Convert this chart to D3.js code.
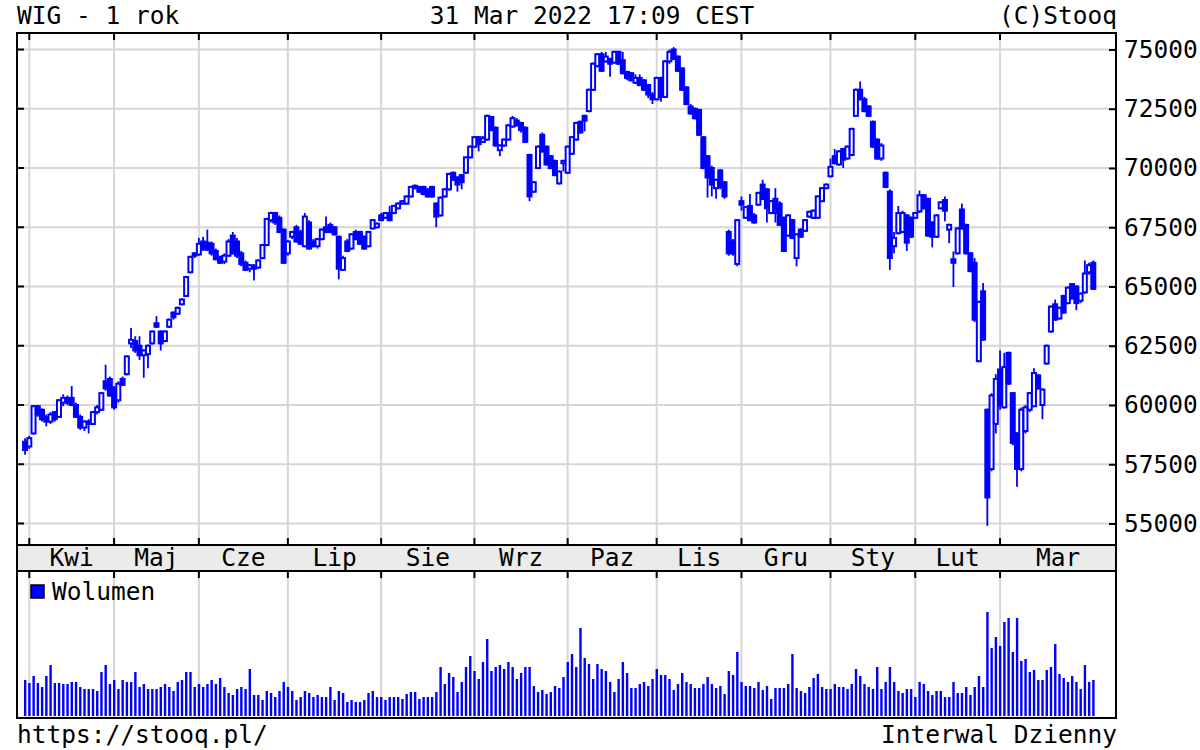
<!DOCTYPE html>
<html><head><meta charset="utf-8">
<script src="https://cdn.jsdelivr.net/npm/d3@7"></script>
<style>
body{margin:0;background:#fff}
svg{display:block}
text{font-family:"DejaVu Sans Mono",monospace;font-size:24.5px;fill:#000}
</style>
</head><body><svg width="1200" height="750"></svg>
<script>
// ---- data ----
const monthLabels = ["Kwi","Maj","Cze","Lip","Sie","Wrz","Paz","Lis","Gru","Sty","Lut","Mar"];
const monthStartIdx = [1,21,41,62,84,106,128,149,169,190,210,230];
const priceTicks = [55000,57500,60000,62500,65000,67500,70000,72500,75000];

const opens = [
58450,58250,58800,59950,59800,59500,59300,59700,59500,60100,
60300,60300,60000,59500,59050,59300,59200,59700,59800,61000,
61100,60700,60200,61100,61300,62600,62700,62500,62100,62150,
62600,63450,63100,62700,63300,63900,63850,64250,64600,65600,
66400,66350,66900,66850,66800,66500,66250,66050,66300,67150,
66900,66400,66000,65750,65850,65800,66200,66750,67800,68100,
67900,67400,66400,67100,67500,67300,66700,67700,66900,66700,
67000,67500,67600,67500,67100,65700,66900,66600,67300,67300,
67100,66700,67450,67500,68000,67900,68100,68100,68300,68500,
68500,68800,69250,69200,69200,69100,69200,68500,68000,68800,
69100,69800,69600,69700,69800,70450,70900,71300,71100,71200,
72150,71700,70750,70950,71200,71750,72000,71900,71700,70550,
69000,70000,71400,70900,70500,70300,69350,70200,69800,70600,
71200,71950,72200,72400,73300,74300,74800,74500,74600,74450,
74900,74550,74050,74000,73600,73800,73700,73500,73100,72900,
73800,73000,74500,75000,74700,74200,73400,72600,72500,72450,
71300,70500,70000,69150,69900,69400,67300,66900,65950,68600,
67900,68400,68000,68450,69300,69100,68100,68700,68500,67900,
67150,67800,66200,67400,67350,67950,67900,67900,68600,69150,
69650,70500,70150,70800,70400,70550,72200,73300,72900,72600,
71950,71200,70400,69800,69000,66700,67250,67300,68000,67900,
67900,68170,68850,68700,67700,67100,68300,68650,67400,66150,
66400,68250,67600,66400,66000,61850,64800,59800,57300,59200,
61500,59900,62200,60500,58800,57300,58900,59800,59950,61250,
60000,61750,63100,64250,63650,64600,64300,65100,65000,64400,
64750,65600,66000];
const highs = [
58600,58700,60000,60000,59850,59600,59700,59750,60250,60450,
60400,60800,60100,59600,59350,59400,59750,60000,60550,61700,
61200,60800,61000,61200,62100,63250,62900,62900,62350,62550,
63150,63750,63150,63150,63650,63950,64150,64500,65450,66300,
66450,67050,67100,67400,66900,66600,66300,66400,67000,67300,
67050,66500,66100,65950,65950,66150,66800,67900,68150,68150,
68000,67450,66950,67350,67600,67400,68100,67800,67000,67050,
67450,67950,67700,67550,67150,66300,67000,67250,67400,67350,
67150,67350,67850,67700,68100,68150,68400,68450,68550,68650,
68850,69250,69300,69250,69250,69150,69250,68550,68800,69150,
69800,69850,69650,69750,70500,70950,71350,71350,71350,72250,
72200,71750,71000,71250,71850,72200,72100,71950,71750,70600,
69450,70950,71500,70950,70550,70350,69900,70350,70950,71350,
71950,72000,72250,73350,74450,74850,74900,74900,74650,74950,
74950,74900,74100,74050,73950,73950,73750,73550,73200,73850,
73850,74550,75000,75100,74750,74250,73450,72700,72550,72500,
71350,70550,70100,69550,69950,69450,67400,67000,67850,68800,
68400,68900,68100,69000,69500,69150,68650,69150,68600,67950,
68050,67850,67250,67450,67850,68200,68250,68850,69200,69350,
70400,70800,70750,70850,70950,71700,73350,73650,73000,72650,
72000,71250,71050,69850,69100,67300,68400,68200,68050,67950,
68150,69050,68900,68750,67750,68050,68600,68800,67650,66480,
67500,68500,67650,66450,66200,64400,65150,59850,60500,61300,
62300,62200,62250,60550,58850,59900,60000,60550,61550,61300,
60700,62550,64200,64450,64150,64650,65000,65150,65050,64750,
66100,66000,66100];
const lows = [
57900,58150,58750,59500,59300,59100,59200,59300,59450,59950,
60000,59950,59450,58950,58900,58800,59150,59600,59750,60600,
60350,59800,60100,60800,61250,62400,62200,61900,61150,61550,
62550,63250,62300,62650,63250,63600,63800,64200,64550,65550,
66200,66300,66500,66500,66300,66100,65950,65950,66250,66350,
66200,65850,65650,65600,65250,65750,66150,66700,67700,67600,
67250,65950,66300,67000,66850,66750,66650,66550,66650,66600,
66950,67250,67250,67150,65300,65650,66450,66550,66950,66750,
66550,66650,67400,67450,67750,67850,67750,68050,68250,68450,
68450,68750,69100,68950,68850,68750,68750,67500,67950,68750,
69050,69450,69000,69100,69750,70400,70850,70700,71050,71150,
71550,70900,70500,70900,71150,71700,71750,71500,71050,68600,
68950,69950,70650,70100,69950,69650,69300,69850,69750,70550,
71150,71450,71550,72350,73250,74250,74050,74450,73850,74400,
74350,73950,73700,73650,73550,73450,73250,72950,72700,72850,
72800,72950,74400,74550,74050,73250,72650,72250,72050,71350,
69950,68750,68800,68700,69100,68700,66300,66300,65850,68200,
67850,67750,67650,68400,68650,67700,68050,67700,67550,66450,
67100,67000,65850,67050,67300,67900,67850,67850,68550,69100,
69600,70150,70100,70000,70350,70500,72150,72850,72350,72150,
70850,70350,70300,69150,65700,66400,67200,67250,66500,67050,
67850,68100,68250,67100,66650,67050,68250,67750,66830,64980,
66350,67400,66350,65600,63500,61800,62700,54900,57200,58800,
59800,59850,60850,58300,56550,57200,58800,59700,59900,60650,
59400,61700,63050,63550,63600,63850,64250,64450,64000,64300,
64700,65500,64850];
const closes = [
58100,58600,59950,59600,59400,59300,59600,59400,60200,60300,
60100,60000,59500,59050,59300,59200,59700,59900,60500,60700,
60400,59900,60900,60850,62050,62750,62300,62100,62300,62500,
63100,63300,62600,63100,63600,63700,64100,64450,65400,66250,
66300,66800,66600,66550,66400,66150,66000,66300,66900,66400,
66300,65950,65700,65900,65750,66100,66750,67850,68100,67700,
67300,66000,66900,67300,66900,66800,67950,66600,66700,67000,
67400,67300,67300,67200,65750,66200,66500,67200,67000,66800,
66600,67300,67800,67650,67800,68100,67800,68400,68500,68600,
68800,69200,69150,69000,68900,68800,68800,67950,68750,69100,
69750,69500,69300,69400,70450,70900,71300,71000,71250,72200,
71600,70950,70950,71200,71800,72100,71800,71600,71100,68800,
69400,70900,70700,70150,70000,69700,69850,70300,70900,71300,
71900,71500,72000,73300,74400,74800,74100,74700,74400,74900,
74400,74000,73800,73700,73800,73500,73300,73100,72900,73800,
73000,74500,74900,74600,74100,73300,72700,72300,72100,71400,
70000,69600,69300,69500,69200,68800,66400,66400,67800,68450,
68350,67800,67700,68950,68700,68300,68600,68100,67600,66500,
68000,67050,67200,67100,67800,68150,68200,68800,69150,69300,
70050,70200,70700,70350,70900,71650,73300,72900,72400,72200,
70900,70400,70950,69200,66200,67050,68100,68100,66850,67100,
68100,68850,68300,67150,67100,68000,68550,68200,67600,66000,
67450,67450,66400,65650,63600,64350,62760,56100,60400,61100,
60000,61600,60900,58400,57300,59800,59900,60500,61350,60700,
60650,62500,64150,63600,64100,63900,64950,64500,64300,64700,
65550,65900,64900];
// volume (relative units)
const volumes = [
36,33,40,33,29,40,51,33,33,32, 32,34,34,29,27,27,27,25,44,51,
32,36,27,36,34,34,44,29,32,27, 27,27,29,32,29,25,34,36,44,44,
29,32,29,32,36,32,38,29,23,21, 27,29,27,47,21,21,16,25,23,19,
25,34,29,25,16,19,25,23,19,21, 19,19,29,16,25,23,14,16,14,14,
16,23,25,19,19,16,19,19,19,
17,22,24,24,17,19,19,19,24,49, 32,43,39,24,34,49,60,45,37,54,
77,45,49,51,47,54,49,37,43,49, 49,30,24,26,22,24,30,28,39,54,
62,49,88,58,52,37,52,47,45,34, 24,37,54,43,28,28,32,34,30,37,
47,41,41,37,26,32,43,34,32,28, 28,32,39,32,28,30,22,45,41,64,
34,30,30,28,34,26,30,17,28,28, 28,32,62,28,
25,23,29,38,42,29,27,27,32,29, 29,27,32,47,40,32,29,27,49,27,
34,49,34,25,23,27,27,19,34,32, 25,21,25,25,19,19,34,23,23,29,
21,29,40,29,104,68,79,70,94,98, 64,98,55,57,44,46,36,36,46,49,
72,42,38,34,40,34,27,51,34,36];

// ---- layout ----
const L=17, R=1116, T=33, B1=545, B2=571, B3=718;
const BLUE="#0000ff", GRID="#d6d6d6";
const svg=d3.select("svg");
const n=closes.length;
const x=d3.scaleLinear().domain([0,252]).range([25.06,1093.3]);
const y=d3.scaleLinear().domain([55000,75000]).range([523.5,49.5]);
const yv=d3.scaleLinear().domain([0,145]).range([716,571]);

// month band
svg.append("rect").attr("x",L).attr("y",B1).attr("width",R-L).attr("height",B2-B1).attr("fill","#ebebeb");

// gridlines
const g=svg.append("g");
g.selectAll("line.h").data(priceTicks).enter().append("line")
 .attr("x1",L).attr("x2",R).attr("y1",d=>y(d)).attr("y2",d=>y(d))
 .attr("stroke",GRID).attr("stroke-width",2);
g.selectAll("line.v1").data(monthStartIdx).enter().append("line")
 .attr("x1",d=>x(d)).attr("x2",d=>x(d)).attr("y1",T).attr("y2",B1)
 .attr("stroke",GRID).attr("stroke-width",2);
g.selectAll("line.v2").data(monthStartIdx).enter().append("line")
 .attr("x1",d=>x(d)).attr("x2",d=>x(d)).attr("y1",B2).attr("y2",B3)
 .attr("stroke",GRID).attr("stroke-width",2);

// candles
const idx=d3.range(n);
const cg=svg.append("g");
cg.selectAll("line.w").data(idx).enter().append("line")
 .attr("x1",i=>x(i)).attr("x2",i=>x(i))
 .attr("y1",i=>y(Math.max(highs[i],opens[i],closes[i])))
 .attr("y2",i=>y(Math.min(lows[i],opens[i],closes[i])))
 .attr("stroke",BLUE).attr("stroke-width",1.8);
cg.selectAll("rect.b").data(idx).enter().append("rect")
 .attr("x",i=>x(i)-2).attr("width",4)
 .attr("y",i=>y(Math.max(opens[i],closes[i])))
 .attr("height",i=>Math.max(0.5,y(Math.min(opens[i],closes[i]))-y(Math.max(opens[i],closes[i]))))
 .attr("fill",i=>closes[i]>=opens[i]?"#fff":BLUE)
 .attr("stroke",BLUE).attr("stroke-width",2);

// volume bars
svg.append("g").selectAll("rect").data(idx).enter().append("rect")
 .attr("x",i=>x(i)-1.1).attr("width",2.4)
 .attr("y",i=>yv(volumes[i])).attr("height",i=>yv(0)-yv(volumes[i]))
 .attr("fill",BLUE);

// frame
const fr=svg.append("g").attr("stroke","#000").attr("stroke-width",2).attr("fill","none");
fr.append("rect").attr("x",L).attr("y",T).attr("width",R-L).attr("height",B3-T);
fr.append("line").attr("x1",L).attr("x2",R).attr("y1",B1).attr("y2",B1);
fr.append("line").attr("x1",L).attr("x2",R).attr("y1",B2).attr("y2",B2);

// month ticks
const tk=svg.append("g").attr("stroke","#000").attr("stroke-width",2);
monthStartIdx.forEach(d=>{
  const xx=x(d);
  tk.append("line").attr("x1",xx).attr("x2",xx).attr("y1",T).attr("y2",T+7);
  tk.append("line").attr("x1",xx).attr("x2",xx).attr("y1",B1-7).attr("y2",B1);
  tk.append("line").attr("x1",xx).attr("x2",xx).attr("y1",B2).attr("y2",B2+7);
});
priceTicks.forEach(p=>{
  tk.append("line").attr("x1",L).attr("x2",L+7).attr("y1",y(p)).attr("y2",y(p));
});

// right axis labels
const ax=d3.axisRight(y).tickValues(priceTicks).tickSizeInner(-7).tickSizeOuter(0).tickPadding(8).tickFormat(d3.format("d"));
const axg=svg.append("g").attr("transform",`translate(${R},0)`).call(ax);
axg.select(".domain").remove();
axg.selectAll("line").attr("stroke","#000").attr("stroke-width",2);
axg.selectAll("text").attr("font-family","DejaVu Sans Mono").attr("font-size",24.5).attr("fill","#000");

// month labels
const bounds=monthStartIdx.map(d=>x(d)).concat([R]);
svg.append("g").selectAll("text").data(monthLabels).enter().append("text")
 .attr("x",(d,i)=>(bounds[i]+bounds[i+1])/2).attr("y",566)
 .attr("text-anchor","middle").text(d=>d);

// legend
svg.append("rect").attr("x",31).attr("y",585).attr("width",13).attr("height",13)
 .attr("fill",BLUE).attr("stroke","#000").attr("stroke-width",1.5);
svg.append("text").attr("x",52).attr("y",600).text("Wolumen");

// header / footer
svg.append("text").attr("x",17).attr("y",24).text("WIG - 1 rok");
svg.append("text").attr("x",592).attr("y",24).attr("text-anchor","middle").text("31 Mar 2022 17:09 CEST");
svg.append("text").attr("x",1117).attr("y",24).attr("text-anchor","end").text("(C)Stooq");
svg.append("text").attr("x",17).attr("y",743).text("https://stooq.pl/");
svg.append("text").attr("x",1117).attr("y",743).attr("text-anchor","end").text("Interwal Dzienny");
</script>
</body></html>
